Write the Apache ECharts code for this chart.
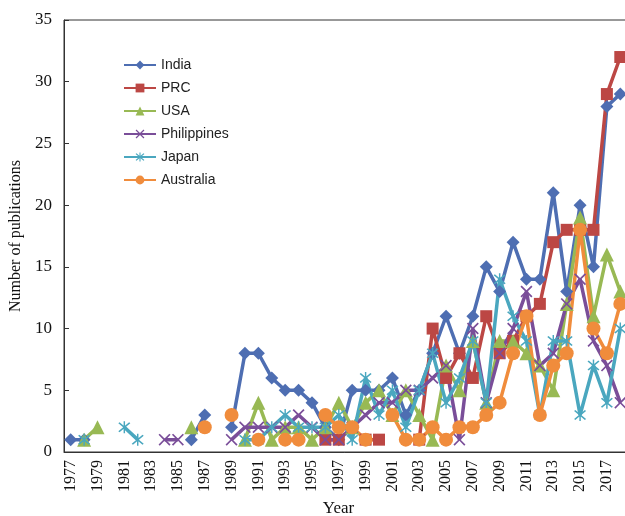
<!DOCTYPE html>
<html>
<head>
<meta charset="utf-8">
<script src="https://cdn.jsdelivr.net/npm/echarts@6/dist/echarts.min.js"></script>
<style>html,body{margin:0;padding:0;background:#fff;}#c{width:625px;height:516px;}</style>
</head>
<body>
<div id="c"></div>
<script>
var years = [];
for (var y = 1977; y <= 2018; y++) years.push(String(y));

var _ = null;
// 1977..2018
var india = [1,1,_,_,_,_,_,_,_,1,3,_,2,8,8,6,5,5,4,2,1,5,5,5,6,3,5,8,11,8,11,15,13,17,14,14,21,13,20,15,28,29];
var prc = [_,_,_,_,_,_,_,_,_,_,_,_,_,_,_,_,_,_,_,1,1,_,1,1,_,_,1,10,6,8,6,11,8,9,11,12,17,18,18,18,29,32];
var usa = [_,1,2,_,_,_,_,_,_,2,_,_,_,1,4,1,2,2,1,2,4,2,4,5,3,5,3,1,7,5,9,4,9,9,8,7,5,12,19,11,16,13];
var philippines = [_,_,_,_,_,_,_,1,1,_,_,_,1,2,2,2,2,3,2,1,1,2,3,4,4,5,5,6,7,1,10,4,8,10,13,7,8,12,14,9,7,4];
var japan = [_,1,_,_,2,1,_,_,_,_,_,_,_,1,1,2,3,2,2,2,3,1,6,3,5,2,5,8,4,6,9,4,14,11,9,3,9,9,3,7,4,10];
var australia = [_,_,_,_,_,_,_,_,_,_,2,_,3,_,1,_,1,1,_,3,2,2,1,_,3,1,1,2,1,2,2,3,4,8,11,3,7,8,18,10,8,12];

var yTicks = [0,5,10,15,20,25,30,35];

var xShape = 'path://M0,1L1,0L5,4L9,0L10,1L6,5L10,9L9,10L5,6L1,10L0,9L4,5Z';
var starShape = 'path://M0,1L1,0L5,4L9,0L10,1L6,5L10,9L9,10L5,6L1,10L0,9L4,5ZM4.4,-1L5.6,-1L5.6,11L4.4,11Z';

function mk(name, data, color, symbol, size) {
  return {
    name: name, type: 'line', data: data, symbol: symbol, symbolSize: size,
    showSymbol: true, showAllSymbol: true,
    connectNulls: false,
    lineStyle: {width: 3.5, color: color},
    itemStyle: {color: color, borderWidth: 0},
    emphasis: {disabled: true},
    animation: false
  };
}

var chart = echarts.init(document.getElementById('c'), null, {renderer: 'canvas'});
chart.setOption({
  backgroundColor: '#fff',
  animation: false,
  grid: {left: 64, top: 20, width: 563, height: 432, outerBoundsMode: 'none', containLabel: false,
    show: true, borderColor: '#333', borderWidth: 1, backgroundColor: 'transparent'},
  legend: {
    orient: 'vertical', left: 118, top: 53, itemWidth: 32, itemHeight: 11, itemGap: 9,
    textStyle: {fontFamily: 'Liberation Sans', fontSize: 14, color: '#222'},
    data: ['India','PRC','USA','Philippines','Japan','Australia']
  },
  xAxis: {
    type: 'category', data: years, boundaryGap: true,
    name: 'Year', nameLocation: 'middle', nameGap: 48,
    nameTextStyle: {fontFamily: 'Liberation Serif', fontSize: 17, color: '#111', padding: [0, 14, 0, 0]},
    axisLine: {lineStyle: {color: '#333', width: 1}},
    axisTick: {inside: true, length: 5, interval: 1, lineStyle: {color: '#333'}},
    axisLabel: {interval: 1, rotate: 90, margin: 8, fontFamily: 'Liberation Serif', fontSize: 16, color: '#111'},
    splitLine: {show: false}
  },
  yAxis: {
    type: 'value', min: 0, max: 35, interval: 5,
    name: 'Number of publications', nameLocation: 'middle', nameGap: 37,
    nameTextStyle: {fontFamily: 'Liberation Serif', fontSize: 16, color: '#111'},
    axisLine: {show: true, lineStyle: {color: '#333', width: 1}},
    axisTick: {show: true, inside: true, length: 5, lineStyle: {color: '#333'}},
    axisLabel: {margin: 12, fontFamily: 'Liberation Serif', fontSize: 17, color: '#111',
      formatter: function(v){ return yTicks.indexOf(v) >= 0 ? String(v) : ''; }},
    splitLine: {show: false}
  },
  series: [
    mk('India', india, '#4E6EB2', 'diamond', 13),
    mk('PRC', prc, '#BC4744', 'rect', 12),
    mk('USA', usa, '#98B954', 'triangle', 14),
    mk('Philippines', philippines, '#7A4E99', xShape, 12),
    mk('Japan', japan, '#4AA7BF', starShape, 12),
    mk('Australia', australia, '#F08C3C', 'circle', 14)
  ]
});
</script>
</body>
</html>
